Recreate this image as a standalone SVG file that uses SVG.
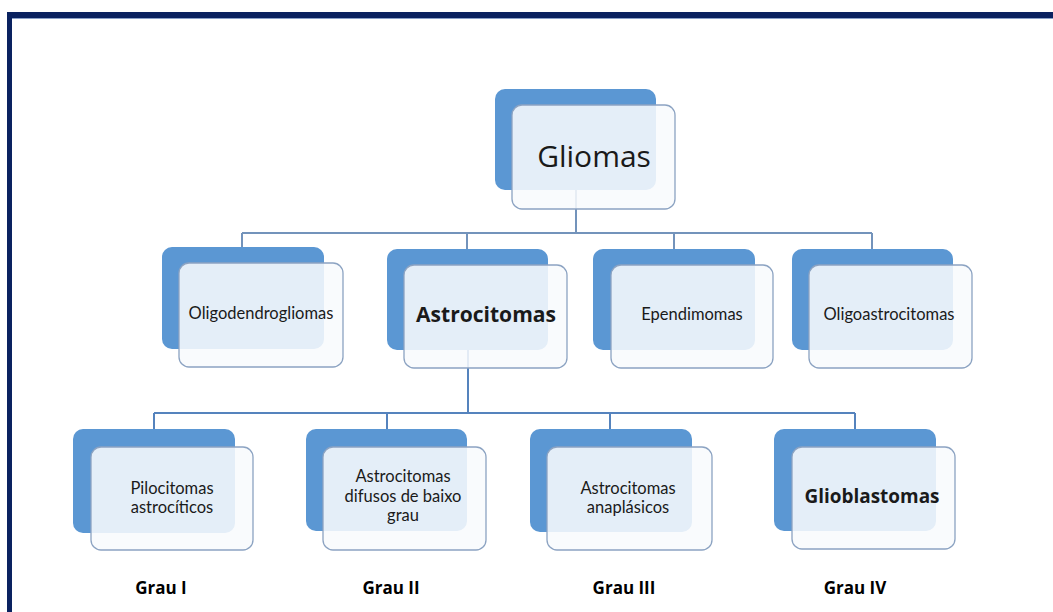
<svg xmlns="http://www.w3.org/2000/svg" width="1053" height="612" viewBox="0 0 1053 612">
<style>
.back{fill:#5b97d3}
.front{fill:#f8fafd;fill-opacity:0.87;stroke:#8ca3c2;stroke-width:1.3}
.t{font-family:"Open Sans","Liberation Sans",sans-serif;fill:#1a1a1a;text-anchor:middle}
.s{font-family:Lato,"Open Sans","Liberation Sans",sans-serif;font-size:16.5px}
.b{font-weight:bold}
.g{font-family:"Open Sans","Liberation Sans",sans-serif;font-weight:bold;font-size:17px;fill:#000;text-anchor:middle}
.c1{fill:none;stroke:#7393bb;stroke-width:2}
.c2{fill:none;stroke:#5583bd;stroke-width:2}
</style>
<rect x="0" y="0" width="1053" height="612" fill="#ffffff"/>
<rect x="7" y="12" width="1046" height="6" fill="#0a2260"/>
<rect x="7" y="12" width="5" height="600" fill="#0a2260"/>
<line x1="12" y1="18.5" x2="1053" y2="18.5" stroke="#8aa0c8" stroke-width="1"/>
<g id="connectors">
<path class="c1" d="M576,190 V233 M242,233 H872 M242,233 V248 M467,233 V250 M674,233 V250 M872,233 V250"/>
<path class="c2" d="M468,350 V413 M154,413 H855 M154,413 V430 M387,413 V430 M610,413 V430 M855,413 V430"/>
</g>
<g id="gliomas">
<rect class="back" x="495" y="89" width="161" height="101" rx="10"/>
<rect class="front" x="512" y="105" width="163" height="104" rx="10"/>
<text class="t" x="594" y="167" font-size="30">Gliomas</text>
</g>
<g id="oligodendrogliomas">
<rect class="back" x="162" y="247" width="162" height="102" rx="10"/>
<rect class="front" x="179" y="263" width="164" height="104" rx="10"/>
<text class="t s" x="261" y="319">Oligodendrogliomas</text>
</g>
<g id="astrocitomas">
<rect class="back" x="387" y="249" width="161" height="101" rx="10"/>
<rect class="front" x="404" y="265" width="163" height="103" rx="10"/>
<text class="t b" x="486" y="322" font-size="21" textLength="140" lengthAdjust="spacingAndGlyphs">Astrocitomas</text>
</g>
<g id="ependimomas">
<rect class="back" x="593" y="249" width="162" height="101" rx="10"/>
<rect class="front" x="611" y="265" width="162" height="103" rx="10"/>
<text class="t s" x="692" y="320">Ependimomas</text>
</g>
<g id="oligoastrocitomas">
<rect class="back" x="792" y="249" width="161" height="101" rx="10"/>
<rect class="front" x="809" y="265" width="163" height="103" rx="10"/>
<text class="t s" x="889" y="320">Oligoastrocitomas</text>
</g>
<g id="pilocitomas">
<rect class="back" x="73" y="429" width="162" height="104" rx="10"/>
<rect class="front" x="91" y="447" width="162" height="103" rx="10"/>
<text class="t s" x="172" y="494">Pilocitomas</text>
<text class="t s" x="172" y="513">astrocíticos</text>
</g>
<g id="difusos">
<rect class="back" x="306" y="429" width="161" height="102" rx="10"/>
<rect class="front" x="323" y="447" width="163" height="103" rx="10"/>
<text class="t s" x="403" y="482">Astrocitomas</text>
<text class="t s" x="403" y="502">difusos de baixo</text>
<text class="t s" x="403" y="521">grau</text>
</g>
<g id="anaplasicos">
<rect class="back" x="530" y="429" width="162" height="103" rx="10"/>
<rect class="front" x="547" y="447" width="165" height="103" rx="10"/>
<text class="t s" x="628" y="494">Astrocitomas</text>
<text class="t s" x="628" y="513">anaplásicos</text>
</g>
<g id="glioblastomas">
<rect class="back" x="774" y="429" width="162" height="102" rx="10"/>
<rect class="front" x="792" y="447" width="163" height="102" rx="10"/>
<text class="t b" x="872" y="503" font-size="19" textLength="135" lengthAdjust="spacingAndGlyphs">Glioblastomas</text>
</g>
<g id="graus">
<text class="g" x="161" y="594">Grau I</text>
<text class="g" x="391" y="594">Grau II</text>
<text class="g" x="624" y="594">Grau III</text>
<text class="g" x="855" y="594">Grau IV</text>
</g>
</svg>
